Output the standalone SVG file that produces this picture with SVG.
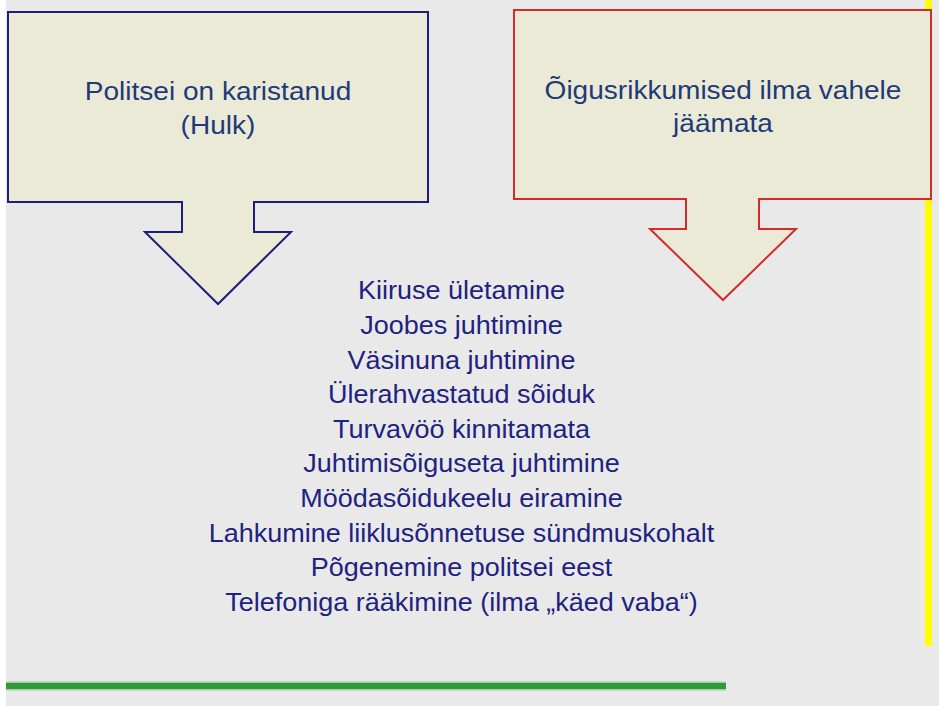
<svg xmlns="http://www.w3.org/2000/svg" width="939" height="706" viewBox="0 0 939 706">
  <style>
    .arrow { fill: #ebead6; stroke-width: 2; stroke-linejoin: miter; }
    .blue { stroke: #1c1f7e; }
    .red { stroke: #d42a2a; }
    .title { font-family: "Liberation Sans", Arial, sans-serif; font-size: 25.5px; fill: #1f3a78; text-anchor: middle; }
    .item { font-family: "Liberation Sans", Arial, sans-serif; font-size: 25px; fill: #1e2280; text-anchor: middle; }
  </style>

  <!-- page -->
  <rect x="0" y="0" width="939" height="706" fill="#ffffff"/>
  <rect x="6" y="0" width="933" height="706" fill="#e9e9e9"/>

  <!-- yellow accent bar on the right -->
  <rect x="925" y="0" width="7" height="646" fill="#ffff00"/>

  <!-- green rule at the bottom -->
  <line x1="6" y1="686" x2="726" y2="686" stroke="#9fcf9f" stroke-width="9"/>
  <line x1="6" y1="686" x2="726" y2="686" stroke="#2f9a36" stroke-width="6"/>

  <!-- left block arrow -->
  <g id="node-punished">
    <polygon class="arrow blue" points="8,12 428,12 428,202 254,202 254,232 291,232 218,304 145,232 182,232 182,202 8,202"/>
    <g transform="translate(218,0) scale(1.1,1)">
      <text class="title" x="0" y="100">Politsei on karistanud</text>
      <text class="title" x="0" y="134">(Hulk)</text>
    </g>
  </g>

  <!-- right block arrow -->
  <g id="node-undetected">
    <polygon class="arrow red" points="514,10 931,10 931,199 759,199 759,229 796,229 723,300 650,229 686,229 686,199 514,199"/>
    <g transform="translate(723,0) scale(1.1,1)">
      <text class="title" x="0" y="99">Õigusrikkumised ilma vahele</text>
      <text class="title" x="0" y="132">jäämata</text>
    </g>
  </g>

  <!-- list of offences -->
  <g id="node-offences" transform="translate(461.5,0) scale(1.08,1)">
    <text class="item" x="0" y="299.5">Kiiruse ületamine</text>
    <text class="item" x="0" y="334.1">Joobes juhtimine</text>
    <text class="item" x="0" y="368.7">Väsinuna juhtimine</text>
    <text class="item" x="0" y="403.3">Ülerahvastatud sõiduk</text>
    <text class="item" x="0" y="437.9">Turvavöö kinnitamata</text>
    <text class="item" x="0" y="472.5">Juhtimisõiguseta juhtimine</text>
    <text class="item" x="0" y="507.1">Möödasõidukeelu eiramine</text>
    <text class="item" x="0" y="541.7">Lahkumine liiklusõnnetuse sündmuskohalt</text>
    <text class="item" x="0" y="576.3">Põgenemine politsei eest</text>
    <text class="item" x="0" y="610.9">Telefoniga rääkimine (ilma „käed vaba“)</text>
  </g>

  <!-- no separate connectors: the block arrows carry the direction -->
  <g id="connectors"/>
</svg>
